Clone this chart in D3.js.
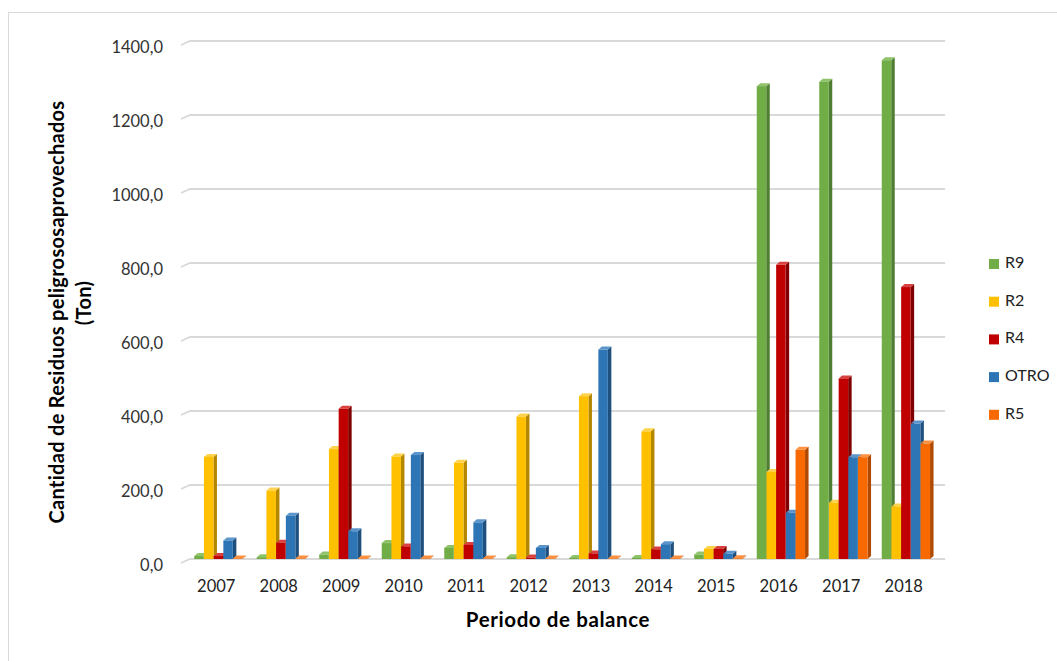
<!DOCTYPE html>
<html>
<head>
<meta charset="utf-8">
<script src="https://cdn.jsdelivr.net/npm/d3@7"></script>
<style>
  html, body { margin: 0; padding: 0; background: #fff; }
  svg { display: block; font-family: Lato, "Open Sans", sans-serif; }
</style>
</head>
<body>
<svg id="chart" width="1057" height="661"></svg>
<script>
// Periods on the horizontal axis
const years = ["2007", "2008", "2009", "2010", "2011", "2012", "2013", "2014", "2015", "2016", "2017", "2018"];

// Tonnes recovered per recovery code
const seriesNames = ["R9", "R2", "R4", "OTRO", "R5"];
const R9   = [8, 5, 12, 43, 30, 5, 3, 3, 12, 1278, 1290, 1348];
const R2   = [276, 185, 297, 277, 260, 385, 440, 345, 27, 235, 152, 142];
const R4   = [8, 44, 406, 34, 38, 4, 15, 26, 27, 795, 488, 735];
const OTRO = [50, 117, 75, 281, 99, 30, 566, 40, 14, 125, 275, 366];
const R5   = [1.5, 1.5, 1.5, 1.5, 1.5, 1.5, 1.5, 1.5, 2, 295, 275, 312];

const yTicks = [0, 200, 400, 600, 800, 1000, 1200, 1400];

const palette = {
  R9:   { front: "#70ad47", side: "#4f7d31", top: "#8fc46a" },
  R2:   { front: "#ffc000", side: "#b38700", top: "#ffd24d" },
  R4:   { front: "#c00000", side: "#7f0000", top: "#d94040" },
  OTRO: { front: "#2e75b6", side: "#1f4f7c", top: "#5b95cc" },
  R5:   { front: "#f86a00", side: "#b04a00", top: "#ff9040" }
};

const valuesBySeries = { R9, R2, R4, OTRO, R5 };

const svg = d3.select("#chart");

// outer chart frame
svg.append("rect")
  .attr("x", 8.5).attr("y", 12.5)
  .attr("width", 1100).attr("height", 700)
  .attr("fill", "none").attr("stroke", "#d9d9d9").attr("stroke-width", 1);

const x = d3.scaleBand().domain(years).range([185, 935]).padding(0);
const y = d3.scaleLinear().domain([0, 1400]).range([559, 41]);

// offsets for the 3-D depth of the bars
const depthX = 3.5, depthY = 3;

// back-wall gridlines with a short slanted foot to the left
const grid = svg.append("g");
yTicks.forEach(t => {
  const gy = y(t);
  grid.append("path")
    .attr("d", `M181,${gy + 4} L190,${gy} L945,${gy}`)
    .attr("fill", "none")
    .attr("stroke", "#d9d9d9")
    .attr("stroke-width", 1.8);
});

// y tick labels
svg.append("g").selectAll("text")
  .data(yTicks)
  .join("text")
  .attr("x", 163)
  .attr("y", d => y(d) + 8)
  .attr("text-anchor", "end")
  .attr("dominant-baseline", "middle")
  .attr("font-size", 16.5)
  .attr("fill", "#333")
  .text(d => d3.format(".1f")(d).replace(".", ","));

// x tick labels
svg.append("g").selectAll("text")
  .data(years)
  .join("text")
  .attr("x", d => x(d) + x.bandwidth() / 2)
  .attr("y", 588)
  .attr("text-anchor", "middle")
  .attr("dominant-baseline", "middle")
  .attr("font-size", 16.5)
  .attr("fill", "#222")
  .text(d => d);

// series positions inside each year group
const inner = d3.scaleBand().domain(seriesNames).range([0, 48.5]).padding(0);
const barW = inner.bandwidth() - 0.2;

const bars = svg.append("g");
years.forEach((yr, i) => {
  const gx = x(yr) + x.bandwidth() / 2 - 22;
  seriesNames.forEach(s => {
    const v = valuesBySeries[s][i];
    const c = palette[s];
    const x0 = gx + inner(s);
    const x1 = x0 + barW;
    const yt = y(v);
    const yb = y(0);
    const g = bars.append("g");
    // right side face
    g.append("path")
      .attr("d", `M${x1},${yt} L${x1 + depthX},${yt - depthY} L${x1 + depthX},${yb - depthY} L${x1},${yb} Z`)
      .attr("fill", c.side);
    // top face
    g.append("path")
      .attr("d", `M${x0},${yt} L${x0 + depthX},${yt - depthY} L${x1 + depthX},${yt - depthY} L${x1},${yt} Z`)
      .attr("fill", c.top);
    // front face
    g.append("rect")
      .attr("x", x0).attr("y", yt)
      .attr("width", barW).attr("height", Math.max(0, yb - yt))
      .attr("fill", c.front);
  });
});

// legend
const legend = svg.append("g");
seriesNames.forEach((s, i) => {
  const ly = 264 + i * 37.7;
  legend.append("rect")
    .attr("x", 989).attr("y", ly - 5)
    .attr("width", 10).attr("height", 10)
    .attr("fill", palette[s].front);
  legend.append("text")
    .attr("x", 1005).attr("y", ly)
    .attr("dominant-baseline", "middle")
    .attr("font-size", 16)
    .attr("fill", "#222")
    .text(s);
});

// axis titles
svg.append("text")
  .attr("x", 558).attr("y", 622)
  .attr("text-anchor", "middle")
  .attr("dominant-baseline", "middle")
  .attr("font-size", 20.5)
  .attr("letter-spacing", 0.6)
  .attr("font-weight", "bold")
  .attr("fill", "#000")
  .text("Periodo de balance");

const yTitle = svg.append("text")
  .attr("transform", "rotate(-90)")
  .attr("text-anchor", "middle")
  .attr("font-size", 20)
  .attr("letter-spacing", 0.3)
  .attr("font-weight", "bold")
  .attr("fill", "#000");
yTitle.append("tspan").attr("x", -312).attr("y", 64).text("Cantidad de Residuos peligrososaprovechados");
yTitle.append("tspan").attr("x", -303).attr("y", 91).text("(Ton)");
</script>
</body>
</html>
